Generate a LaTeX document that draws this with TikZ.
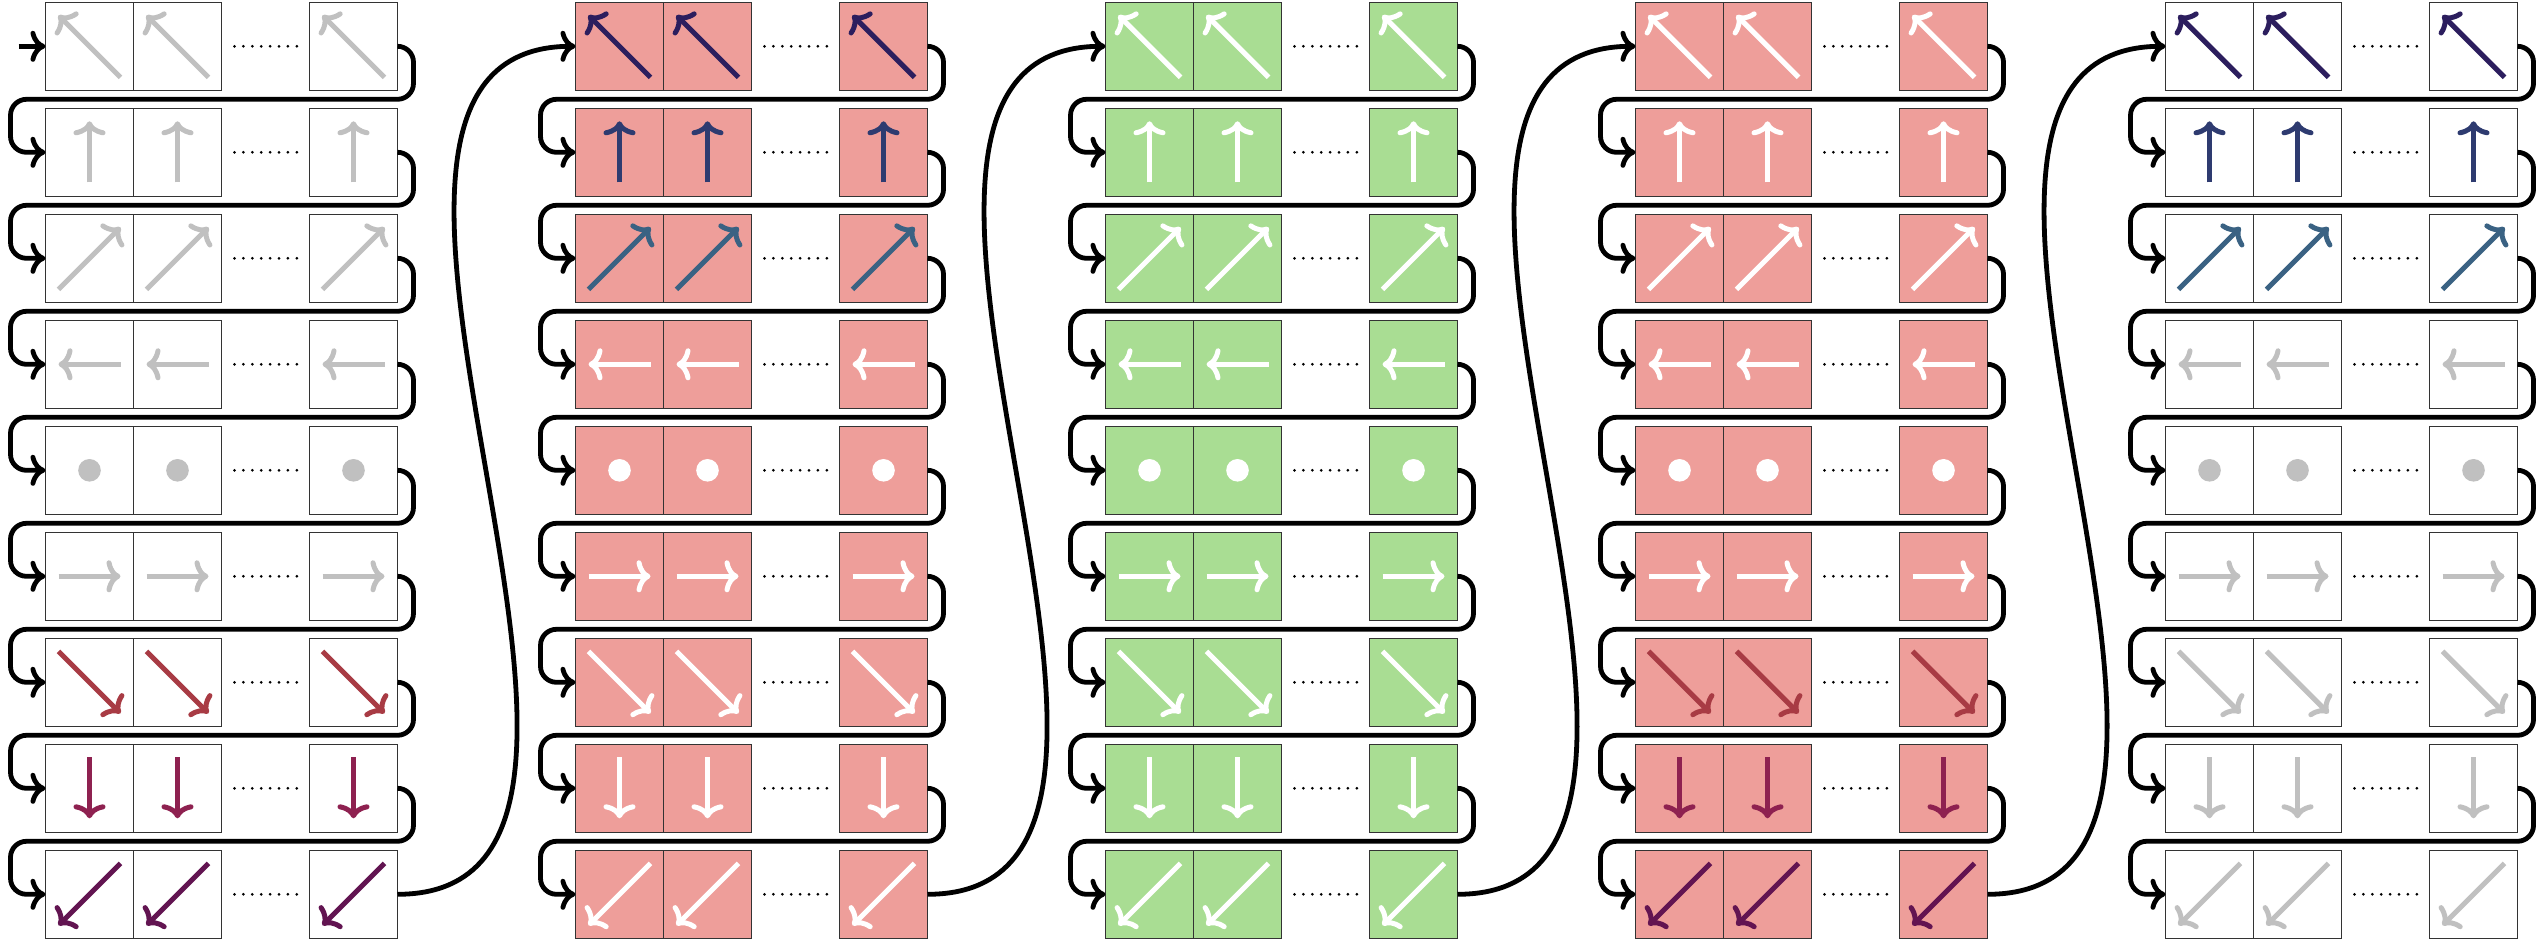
\documentclass[tikz,border=0pt]{standalone}
\usetikzlibrary{arrows.meta,calc}
\definecolor{pinkf}{RGB}{238,158,154}
\definecolor{greenf}{RGB}{169,221,147}
\definecolor{grayA}{RGB}{192,192,192}
\definecolor{rc0}{RGB}{44,30,94}
\definecolor{rc1}{RGB}{46,59,112}
\definecolor{rc2}{RGB}{58,98,131}
\definecolor{rc6}{RGB}{168,59,68}
\definecolor{rc7}{RGB}{142,33,80}
\definecolor{rc8}{RGB}{98,20,81}
\tikzset{
  box/.style={draw=black!80, line width=1.4pt, minimum width=88pt, minimum height=88pt,
    inner sep=0pt, outer sep=0pt, anchor=north west},
  glyph/.style={line width=5pt, -{Computer Modern Rightarrow[length=14pt,width=32pt]}},
  conn/.style={line width=4.8pt, rounded corners=16pt, -{Computer Modern Rightarrow[length=15pt,width=31pt]}},
  link/.style={line width=4.8pt, -{Computer Modern Rightarrow[length=15pt,width=31pt]}},
  dotmark/.style={fill=black},
}
\newcommand{\drawglyph}[3]{%
  \begin{scope}[shift={(#3.north west)}]
  \ifcase#1\relax
    \draw[glyph,color=#2] (75,75) -- (13,13);
  \or \draw[glyph,color=#2] (44,74) -- (44,13);
  \or \draw[glyph,color=#2] (13,75) -- (75,13);
  \or \draw[glyph,color=#2] (75,44) -- (13,44);
  \or \fill[color=#2] (44,44) circle[radius=11.3pt];
  \or \draw[glyph,color=#2] (13,44) -- (75,44);
  \or \draw[glyph,color=#2] (13,13) -- (75,75);
  \or \draw[glyph,color=#2] (44,13) -- (44,74);
  \or \draw[glyph,color=#2] (75,13) -- (13,75);
  \fi
  \end{scope}}
\begin{document}
\begin{tikzpicture}[x=1pt,y=-1pt]
\useasboundingbox (0,0) rectangle (2542,941);
% boxes and glyphs
\foreach \c/\fillc in {0/white,1/pinkf,2/greenf,3/pinkf,4/white} {
  \foreach \r in {0,...,8} {
    \pgfmathsetmacro{\yy}{2.3+106*\r}
    \pgfmathsetmacro{\xx}{45.5+530*\c}
    \pgfmathtruncatemacro{\colored}{(((\c==0) || (\c==3)) && (\r>=6)) || (((\c==1) || (\c==4)) && (\r<=2)) ? 1 : 0}
    \ifnum\colored=1 \edef\gcol{rc\r}\else
      \ifnum\c=0 \def\gcol{grayA}\else
        \ifnum\c=4 \def\gcol{grayA}\else \def\gcol{white}\fi\fi\fi
    \foreach \k/\dx in {1/0,2/88,3/264} {
      \node[box,fill=\fillc] (b-\c-\r-\k) at (\xx+\dx, \yy) {};
      \drawglyph{\r}{\gcol}{b-\c-\r-\k}
    }
    \foreach \i in {0,...,7} {
      \fill[dotmark] (\xx+189+8.9*\i, \yy+44) circle[radius=1.5pt];
    }
  }
}
% row connectors
\foreach \c in {0,...,4} {
  \foreach \r in {0,...,7} {
    \pgfmathtruncatemacro{\rn}{\r+1}
    \pgfmathsetmacro{\yy}{2.3+106*\r}
    \pgfmathsetmacro{\xx}{45.5+530*\c}
    \draw[conn] (b-\c-\r-3.east) -- ++(16,0) |- (\xx-35, \yy+97) |- (b-\c-\rn-1.west);
  }
}
% entry arrow
\coordinate (in0) at (18.6, 46.3);
\draw[link] (in0) -- (b-0-0-1.west);
% column links
\foreach \c in {0,...,3} {
  \pgfmathtruncatemacro{\cn}{\c+1}
  \draw[link] (b-\c-8-3.east) to[out=0,in=180,looseness=0.95] (b-\cn-0-1.west);
}
\end{tikzpicture}
\end{document}
